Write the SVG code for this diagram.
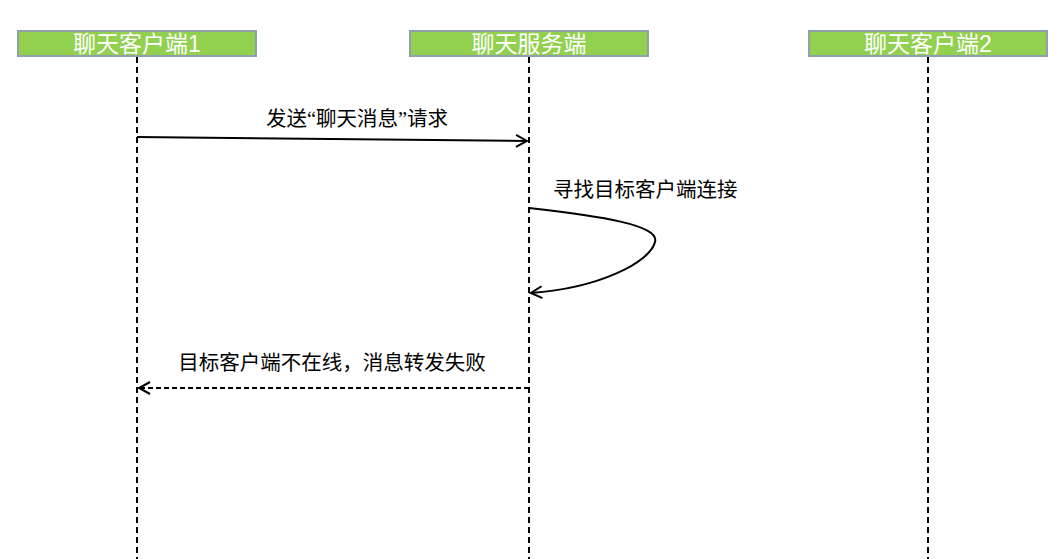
<svg xmlns="http://www.w3.org/2000/svg" width="1059" height="559" viewBox="0 0 1059 559">
<style>
.box{fill:#92D050;stroke:#8EA0AA;stroke-width:2}
.ht{font-family:"Liberation Sans","Noto Sans CJK SC",sans-serif;font-size:23px;fill:#fff;text-anchor:middle}
.life{stroke:#000;stroke-width:2;stroke-dasharray:6 4;fill:none}
.msg{font-family:"Liberation Serif","Noto Sans CJK SC",serif;font-size:20.5px;fill:#000}
.arr{stroke:#000;stroke-width:2;fill:none}
</style>
<defs>
<marker id="ah" markerWidth="14" markerHeight="14" refX="12" refY="7" orient="auto" markerUnits="userSpaceOnUse">
<path d="M1,1 L12,7 L1,13" fill="none" stroke="#000" stroke-width="2"/>
</marker>
</defs>
<rect width="1059" height="559" fill="#fff"/>
<g id="connectors">
<line class="life" x1="137" y1="57" x2="137" y2="559"/>
<line class="life" x1="529" y1="57" x2="529" y2="559"/>
<line class="life" x1="928" y1="57" x2="928" y2="559"/>
<line class="arr" x1="137" y1="137" x2="527" y2="141" marker-end="url(#ah)"/>
<path class="arr" d="M529,208 C600,216 660,225 655,242 C650,262 600,288 531,293" marker-end="url(#ah)"/>
<line class="arr" x1="529" y1="388" x2="139" y2="388" stroke-dasharray="5 3" marker-end="url(#ah)"/>
<text class="msg" x="357" y="126" text-anchor="middle">发送“聊天消息”请求</text>
<text class="msg" x="553" y="197">寻找目标客户端连接</text>
<text class="msg" x="332" y="370" text-anchor="middle">目标客户端不在线，消息转发失败</text>
</g>
<g id="client1"><rect class="box" x="18" y="31" width="238" height="25"/><text class="ht" x="137" y="52">聊天客户端1</text></g>
<g id="server"><rect class="box" x="410" y="31" width="238" height="25"/><text class="ht" x="529" y="52">聊天服务端</text></g>
<g id="client2"><rect class="box" x="809" y="31" width="238" height="25"/><text class="ht" x="928" y="52">聊天客户端2</text></g>
</svg>
